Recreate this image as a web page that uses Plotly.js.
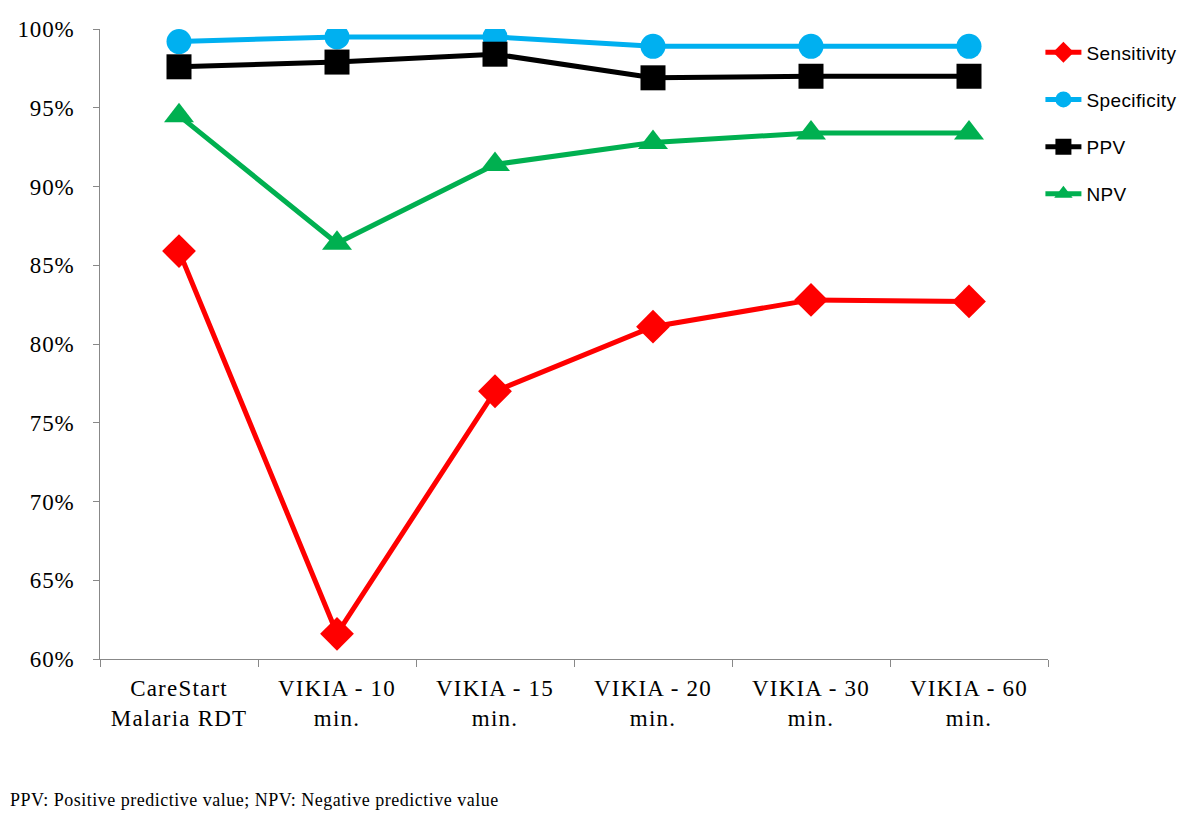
<!DOCTYPE html>
<html>
<head>
<meta charset="utf-8">
<script src="https://cdn.plot.ly/plotly-3.0.1.min.js"></script>
<style>
body{margin:0;background:#fff}
#chart{width:1200px;height:818px}
.xtick text{letter-spacing:1.2px}
.ytick text{letter-spacing:0.8px;font-family:'Liberation Serif','Times New Roman',serif !important}
.legendtext{letter-spacing:0.4px}
.annotation-text{letter-spacing:0.5px}
</style>
</head>
<body>
<div id="chart"></div>
<script>
const categories = ["CareStart<br>Malaria RDT", "VIKIA - 10<br>min.", "VIKIA - 15<br>min.", "VIKIA - 20<br>min.", "VIKIA - 30<br>min.", "VIKIA - 60<br>min."];
const sensitivity = [85.9, 61.6, 77.0, 81.1, 82.8, 82.7];
const specificity = [99.2, 99.5, 99.5, 98.9, 98.9, 98.9];
const ppv = [97.6, 97.9, 98.4, 96.9, 97.0, 97.0];
const npv = [94.5, 86.4, 91.4, 92.8, 93.4, 93.4];
const yTicks = [60, 65, 70, 75, 80, 85, 90, 95, 100];
const footnote = "PPV: Positive predictive value; NPV: Negative predictive value";

function tr(name, y, color, symbol, size) {
  return {
    x: categories, y: y, name: name, type: 'scatter', mode: 'lines+markers',
    legendgroup: name,
    line: {color: color, width: 5},
    marker: {color: color, symbol: symbol, size: size}
  };
}
const data = [
  tr('Sensitivity', sensitivity, '#FF0000', 'diamond', 26),
  tr('Specificity', specificity, '#00B0F0', 'circle', 25),
  tr('PPV', ppv, '#000000', 'square', 25),
  tr('NPV', npv, '#00B050', 'triangle-up', 26)
];
const layout = {
  width: 1200, height: 818,
  margin: {l: 100, r: 152, t: 29, b: 159},
  paper_bgcolor: '#fff', plot_bgcolor: '#fff',
  showlegend: true,
  legend: {x: 0.992, xanchor: 'left', y: 0.993, yanchor: 'top',
           font: {family: 'Liberation Sans, Arial', size: 19, color: '#000'},
           traceorder: 'grouped', tracegroupgap: 19.5, itemwidth: 36},
  xaxis: {
    type: 'category', range: [-0.5, 5.5], tickson: 'boundaries',
    ticks: 'outside', ticklen: 7, tickcolor: '#888', showline: true, linecolor: '#888', linewidth: 1,
    showgrid: false, zeroline: false, ticklabelstandoff: 8,
    tickfont: {family: 'Liberation Serif, Times New Roman', size: 23, color: '#000'}
  },
  yaxis: {
    range: [60, 100], tickvals: yTicks, ticktext: yTicks.map(v => v + '%'),
    ticks: 'outside', ticklen: 6, tickcolor: '#888', showline: true, linecolor: '#888', linewidth: 1,
    showgrid: false, zeroline: false, ticklabelstandoff: 14,
    tickfont: {family: 'Liberation Serif, Times New Roman', size: 23, color: '#000'}
  },
  annotations: [{
    text: footnote, xref: 'paper', yref: 'paper', x: -0.097, y: -0.224,
    xanchor: 'left', yanchor: 'middle', showarrow: false,
    font: {family: 'Liberation Serif, Times New Roman', size: 18, color: '#000'}
  }]
};
Plotly.newPlot('chart', data, layout, {displayModeBar: false});
</script>
</body>
</html>
